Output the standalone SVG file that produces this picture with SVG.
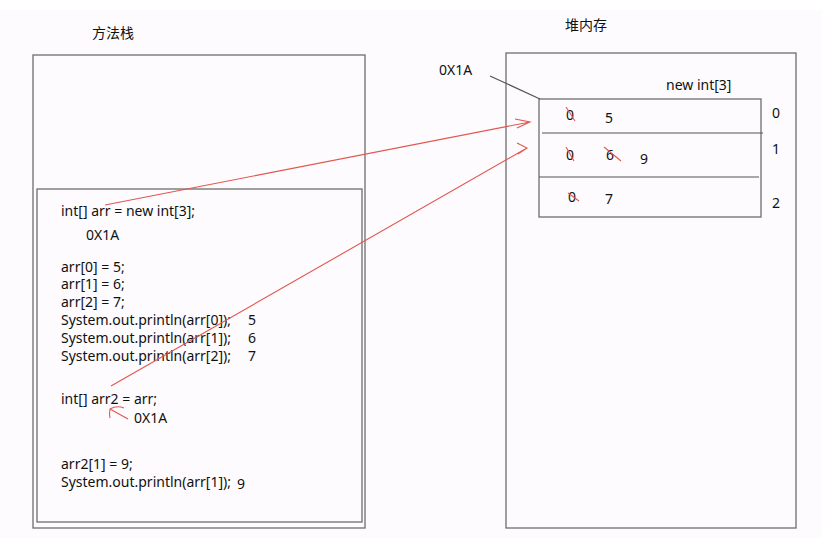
<svg xmlns="http://www.w3.org/2000/svg" width="822" height="538" viewBox="0 0 822 538">
<style>
.box{fill:none;stroke:#6e6e6e;stroke-width:1.3}
.ln{stroke:#555;stroke-width:1.2;fill:none}
.t{font-family:"Noto Sans","Noto Sans CJK SC",sans-serif;font-size:14px;fill:#111}
.red{stroke:#e0574f;stroke-width:1.1;fill:none}
</style>
<rect width="822" height="538" fill="#fdfbfd"/>
<rect width="822" height="10" fill="#ffffff"/>
<g id="stack">
<text class="t" x="92" y="38">方法栈</text>
<rect class="box" x="33" y="55" width="332" height="473"/>
<rect class="box" x="37" y="189" width="325" height="333"/>
</g>
<g id="code">
<text class="t" x="61" y="216">int[] arr = new int[3];</text>
<text class="t" x="86" y="240">0X1A</text>
<text class="t" x="61" y="272">arr[0] = 5;</text>
<text class="t" x="61" y="289">arr[1] = 6;</text>
<text class="t" x="61" y="307">arr[2] = 7;</text>
<text class="t" x="61" y="325">System.out.println(arr[0]);</text>
<text class="t" x="248" y="325">5</text>
<text class="t" x="61" y="343">System.out.println(arr[1]);</text>
<text class="t" x="248" y="343">6</text>
<text class="t" x="61" y="361">System.out.println(arr[2]);</text>
<text class="t" x="248" y="361">7</text>
<text class="t" x="61" y="404">int[] arr2 = arr;</text>
<text class="t" x="134" y="423">0X1A</text>
<text class="t" x="61" y="469">arr2[1] = 9;</text>
<text class="t" x="61" y="487">System.out.println(arr[1]);</text>
<text class="t" x="237" y="489">9</text>
</g>
<g id="heap">
<text class="t" x="565" y="30">堆内存</text>
<rect class="box" x="506" y="53" width="290" height="475"/>
<text class="t" x="439" y="75">0X1A</text>
<text class="t" x="666" y="90">new int[3]</text>
</g>
<g id="array">
<rect class="box" x="539" y="99" width="222" height="118"/>
<line class="ln" x1="542" y1="133" x2="763" y2="133"/>
<line class="ln" x1="539" y1="177" x2="759" y2="177"/>
<text class="t" x="772" y="118">0</text>
<text class="t" x="772" y="154">1</text>
<text class="t" x="772" y="208">2</text>
<text class="t" x="566" y="120">0</text>
<text class="t" x="605" y="123">5</text>
<text class="t" x="566" y="160">0</text>
<text class="t" x="606" y="160">6</text>
<text class="t" x="640" y="164">9</text>
<text class="t" x="568" y="202">0</text>
<text class="t" x="605" y="204">7</text>
<line class="red" x1="566" y1="107" x2="575" y2="121"/>
<line class="red" x1="566" y1="147" x2="574" y2="161"/>
<line class="red" x1="604" y1="147" x2="621" y2="161"/>
<line class="red" x1="568" y1="193" x2="579" y2="201"/>
</g>
<g id="connectors">
<line class="ln" x1="490" y1="76" x2="540" y2="99"/>
<path class="red" d="M105 205 L530 122 M515 119 L530 122 L517 128"/>
<path class="red" d="M111 386 L527 148 M517 143 L527 148 L518 154"/>
<path class="red" d="M128 419 L110 409 M124 408 Q117 405 110 409 Q109 414 110 418"/>
</g>
</svg>
